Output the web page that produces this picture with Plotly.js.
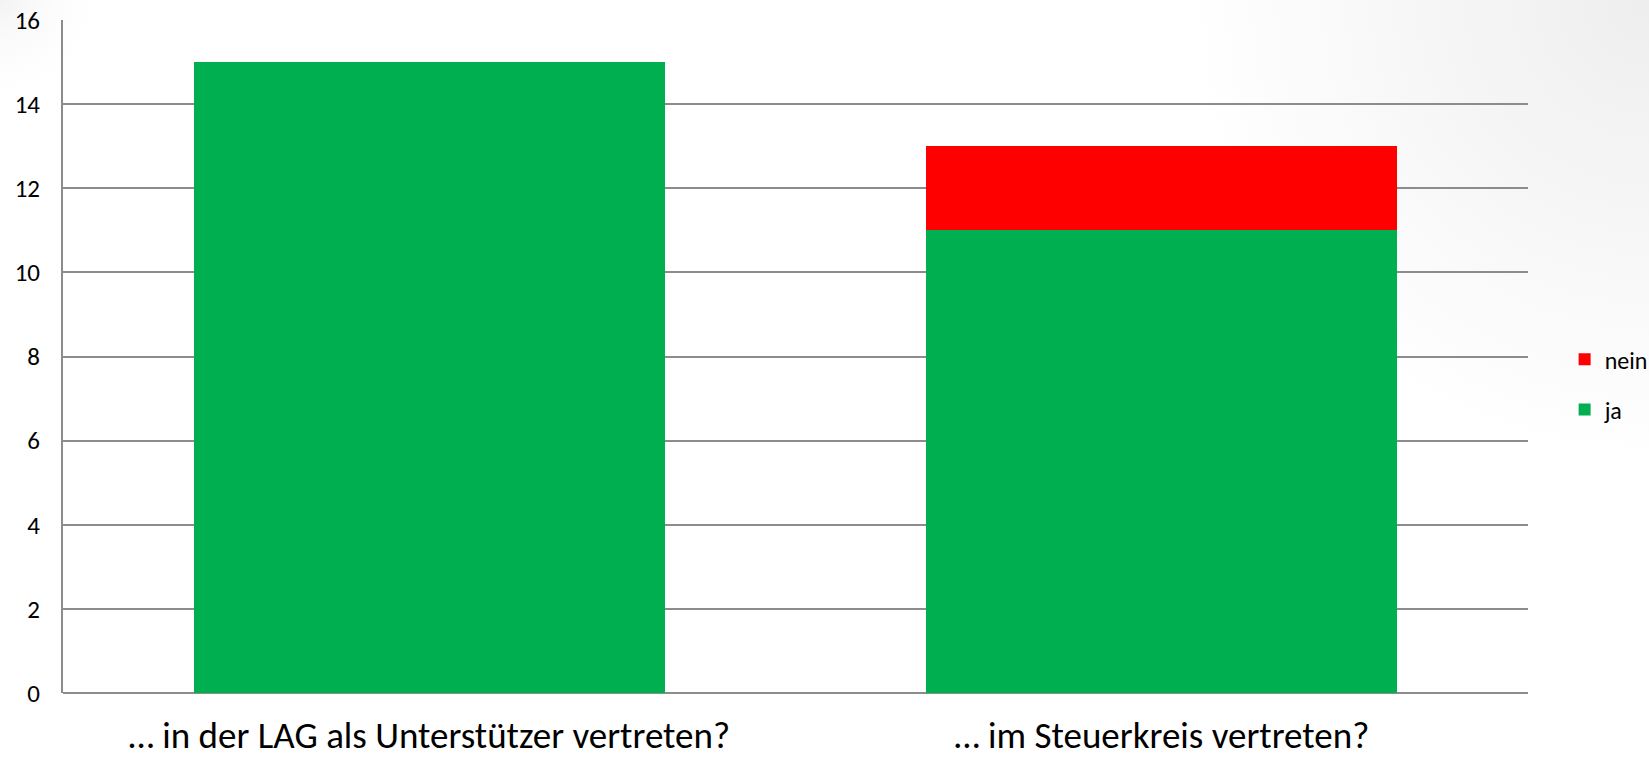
<!DOCTYPE html>
<html>
<head>
<meta charset="utf-8">
<script src="https://cdn.plot.ly/plotly-3.0.1.min.js"></script>
<style>html,body{margin:0;padding:0;background:#fff;}#chart{width:1649px;height:759px;}</style>
</head>
<body>
<div id="chart"></div>
<script>
const categories = ["… in der LAG als Unterstützer vertreten?", "… im Steuerkreis vertreten?"];
const jaValues = [15, 11];
const neinValues = [0, 2];
const yTicks = [0, 2, 4, 6, 8, 10, 12, 14, 16];

const font = "Carlito, 'Open Sans', sans-serif";

const bgSvg = '<svg xmlns="http://www.w3.org/2000/svg" width="1649" height="759">' +
  '<defs><radialGradient id="g" cx="1649" cy="0" r="460" gradientUnits="userSpaceOnUse">' +
  '<stop offset="0" stop-color="#eeeeee"/><stop offset="1" stop-color="#ffffff"/></radialGradient>' +
  '<radialGradient id="h" cx="0" cy="0" r="110" gradientUnits="userSpaceOnUse">' +
  '<stop offset="0" stop-color="#f3f3f3"/><stop offset="1" stop-color="#ffffff" stop-opacity="0"/></radialGradient></defs>' +
  '<rect width="1649" height="759" fill="url(#g)"/><rect width="1649" height="759" fill="url(#h)"/></svg>';

const traces = [
  {type: "bar", name: "ja", x: categories, y: jaValues, marker: {color: "#00b050"}, legendgroup: "ja", legendrank: 2},
  {type: "bar", name: "nein", x: categories, y: neinValues, marker: {color: "#ff0000"}, legendgroup: "nein", legendrank: 1}
];

const layout = {
  width: 1649, height: 759,
  margin: {l: 63, r: 121, t: 20, b: 66, autoexpand: false},
  paper_bgcolor: "rgba(0,0,0,0)", plot_bgcolor: "#ffffff",
  barmode: "stack", bargap: 0.357,
  font: {family: font, color: "#000000"},
  showlegend: true,
  legend: {x: 1.025, xanchor: "left", y: 0.458, yanchor: "middle", traceorder: "grouped", tracegroupgap: 16, font: {size: 24, family: font}, bgcolor: "rgba(0,0,0,0)"},
  xaxis: {type: "category", showgrid: false, showline: false, zeroline: false, ticks: "", tickfont: {size: 37, family: font}, ticklabelstandoff: 17, automargin: false},
  yaxis: {range: [0, 16], tickvals: yTicks, ticktext: yTicks.map(String), showgrid: true, gridcolor: "#8c8c8c", gridwidth: 2, zeroline: true, zerolinecolor: "#8c8c8c", zerolinewidth: 2, showline: true, linecolor: "#8c8c8c", linewidth: 2, ticks: "", tickfont: {size: 25, family: font}, ticklabelstandoff: 16, automargin: false},
  images: [{source: "data:image/svg+xml;charset=utf-8," + encodeURIComponent(bgSvg), xref: "paper", yref: "paper", xanchor: "left", yanchor: "top", layer: "below", sizing: "stretch"}]
};
// image spans the whole page, not only the plot domain
layout.images[0].x = -63 / 1465; layout.images[0].y = 1 + 20 / 673;
layout.images[0].sizex = 1649 / 1465; layout.images[0].sizey = 759 / 673;

Plotly.newPlot("chart", traces, layout, {displayModeBar: false, staticPlot: true});
</script>
</body>
</html>
